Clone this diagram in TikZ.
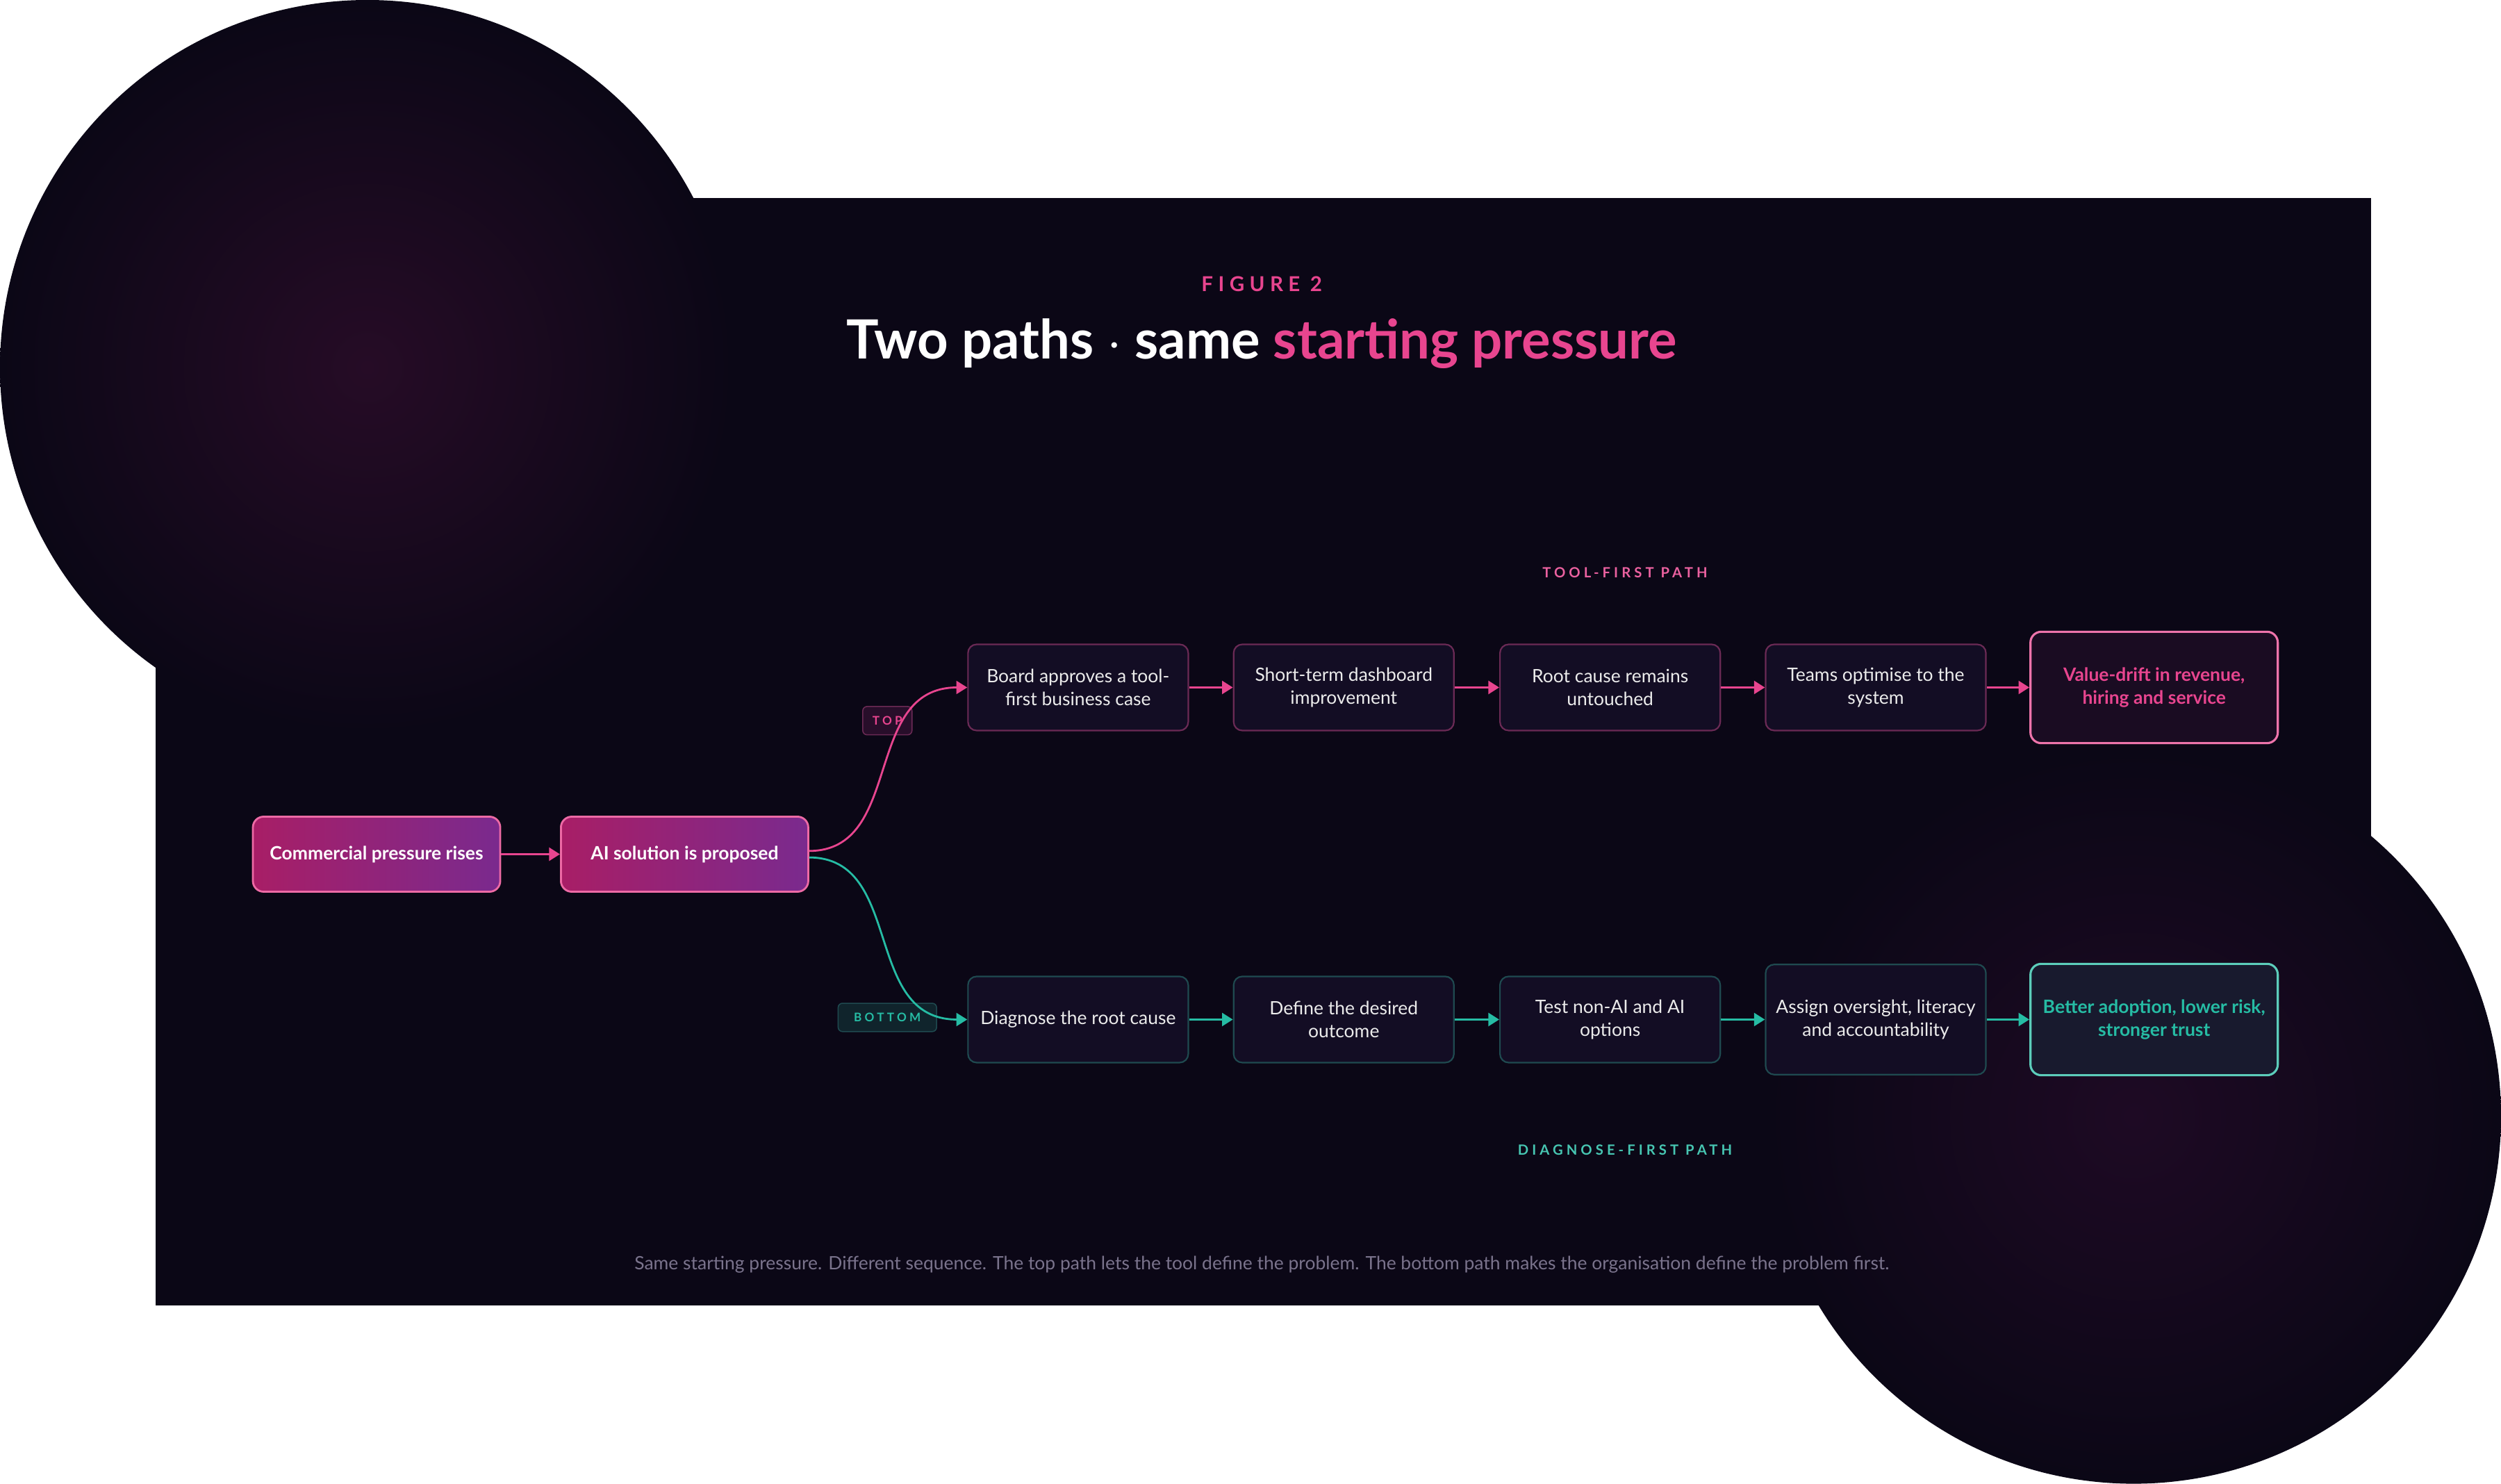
\documentclass[tikz,border=0pt]{standalone}
\usepackage{fontspec}
\setmainfont{Lato}
\newfontfamily\spaced[LetterSpace=25]{Lato}
\usetikzlibrary{positioning}
\usetikzlibrary{arrows.meta}
\usetikzlibrary{shadings}
\definecolor{bgc}{HTML}{0B0716}
\definecolor{boxc}{HTML}{130D24}
\definecolor{pinkc}{HTML}{E8458F}
\definecolor{pinkdim}{HTML}{6B2A55}
\definecolor{tealc}{HTML}{26BCA4}
\definecolor{tealdim}{HTML}{1F4A50}
\definecolor{capc}{HTML}{7A738C}
\definecolor{gradl}{HTML}{A81E66}
\definecolor{gradr}{HTML}{7A2A8E}
\definecolor{glowa}{HTML}{260C26}
\definecolor{glowb}{HTML}{1E0A24}
\begin{document}
\begin{tikzpicture}[
  x=0.02296cm, y=-0.02296cm,
  font=\fontsize{8.5}{10.5}\selectfont,
  start/.style={draw=pinkc!80, line width=0.9pt, rounded corners=5pt, left color=gradl, right color=gradr, text=white, font=\fontsize{8.5}{10.5}\selectfont\bfseries, minimum width=4.02cm, minimum height=1.22cm},
  stepbox/.style={rectangle, rounded corners=4pt, fill=boxc, line width=0.7pt, text=white!92!black, align=center, minimum width=3.58cm, minimum height=1.40cm},
  topstep/.style={stepbox, draw=pinkdim},
  botstep/.style={stepbox, draw=tealdim},
  outcome/.style={rectangle, rounded corners=5pt, line width=1pt, align=center, font=\fontsize{8.5}{10.5}\selectfont\bfseries, minimum width=4.02cm, minimum height=1.81cm},
  tag/.style={rectangle, rounded corners=2pt, line width=0.5pt, font=\fontsize{5.5}{6}\selectfont\spaced\bfseries, minimum height=0.46cm},
  parr/.style={pinkc, line width=1.1pt, -{Triangle[length=5pt,width=6pt]}},
  tarr/.style={tealc, line width=1.1pt, -{Triangle[length=5pt,width=6pt]}},
]
% background
\fill[bgc] (0,0) rectangle (1568,784);
\shade[inner color=glowa, outer color=bgc] (150,120) circle (260);
\shade[inner color=glowb, outer color=bgc] (1400,650) circle (260);

% headings
\node (fig) at (783,61) {\fontsize{9.5}{10}\selectfont\spaced\bfseries\color{pinkc}FIGURE 2};
\node (title) at (783,103) {\fontsize{25}{28}\selectfont\bfseries\color{white}Two paths $\cdot$ same \color{pinkc}starting pressure};

% start nodes
\node (s1) [start] at (156.5,464.5) {Commercial pressure rises};
\node (s2) [start] at (374.5,464.5) {AI solution is proposed};
\draw[parr] (s1) -- (s2);

% top path
\node (top1) [topstep] at (653,346.5) {Board approves a tool-\\first business case};
\node (top2) [topstep] at (841,346.5) {Short-term dashboard\\improvement};
\node (top3) [topstep] at (1029.5,346.5) {Root cause remains\\untouched};
\node (top4) [topstep] at (1217.5,346.5) {Teams optimise to the\\system};
\node (top5) [outcome, draw=pinkc!75, fill={rgb,255:red,26;green,12;blue,34}, text=pinkc] at (1414.5,346.5) {Value-drift in revenue,\\hiring and service};
\foreach \i [count=\j from 2] in {1,...,4}
  \draw[parr] (top\i) -- (top\j);

% bottom path
\node (bot1) [botstep] at (653,581.5) {Diagnose the root cause};
\node (bot2) [botstep] at (841,581.5) {Define the desired\\outcome};
\node (bot3) [botstep] at (1029.5,581.5) {Test non-AI and AI\\options};
\node (bot4) [botstep, minimum height=1.79cm] at (1217.5,581.5) {Assign oversight, literacy\\and accountability};
\node (bot5) [outcome, draw=tealc!75, fill={rgb,255:red,24;green,26;blue,46}, text=tealc] at (1414.5,581.5) {Better adoption, lower risk,\\stronger trust};
\foreach \i [count=\j from 2] in {1,...,4}
  \draw[tarr] (bot\i) -- (bot\j);

% tags
\node (toptag) [tag, draw=pinkdim, fill={rgb,255:red,40;green,14;blue,42}, text=pinkc, minimum width=0.8cm] at (518,370) {TOP};
\node (bottag) [tag, draw=tealdim, fill={rgb,255:red,16;green,36;blue,44}, text=tealc, minimum width=1.6cm] at (518,580) {BOTTOM};

% branches
\draw[parr, line width=0.9pt] ([yshift=1.5pt]s2.east) .. controls (530,462) and (500,346.5) .. (top1.west);
\draw[tarr, line width=0.9pt] ([yshift=-1.5pt]s2.east) .. controls (530,467) and (500,581.5) .. (bot1.west);

% path labels
\node (toplbl) at (1040,265) {\fontsize{6.5}{7}\selectfont\spaced\bfseries\color{pinkc!85}TOOL-FIRST PATH};
\node (botlbl) at (1040,674) {\fontsize{6.5}{7}\selectfont\spaced\bfseries\color{tealc!85}DIAGNOSE-FIRST PATH};

% caption
\node (cap) at (783,755) {\fontsize{8.5}{10}\selectfont\color{capc}Same starting pressure. Different sequence. The top path lets the tool define the problem. The bottom path makes the organisation define the problem first.};
\end{tikzpicture}
\end{document}
